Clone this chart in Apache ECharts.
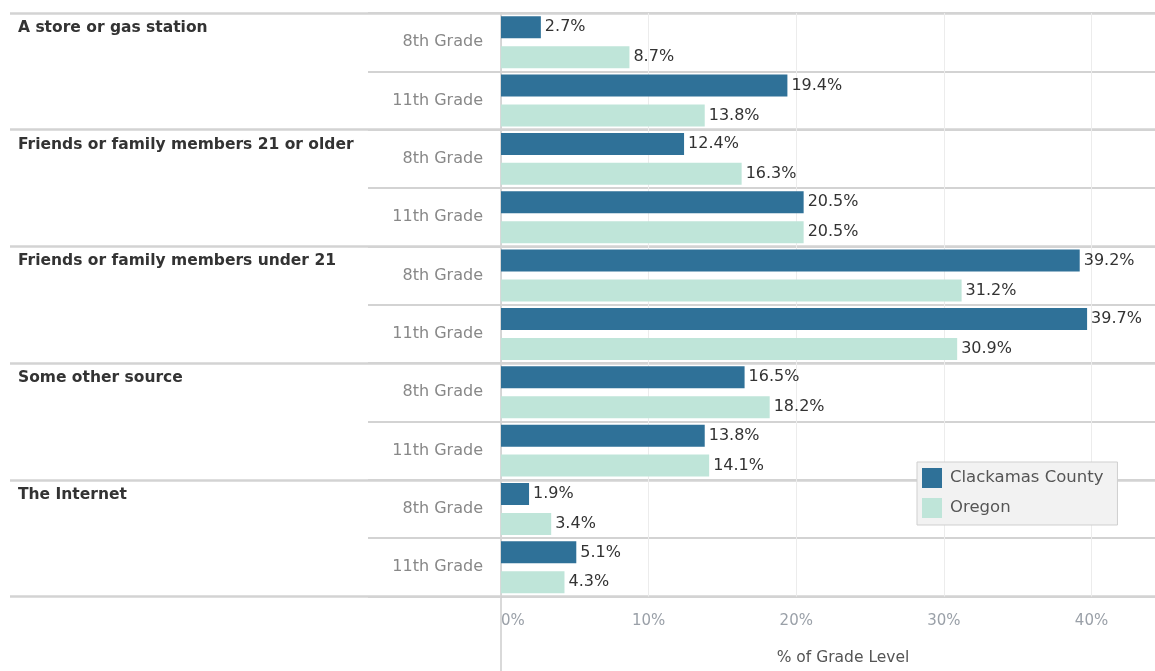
<!DOCTYPE html>
<html>
<head>
<meta charset="utf-8">
<script src="https://cdn.jsdelivr.net/npm/echarts@6/dist/echarts.min.js"></script>
<style>
  html, body { margin: 0; padding: 0; background: #fff; }
  #chart { width: 1155px; height: 671px; }
</style>
</head>
<body>
<div id="chart"></div>
<script>
// ---- data ----
const groups = ['A store or gas station', 'Friends or family members 21 or older', 'Friends or family members under 21', 'Some other source', 'The Internet'];
const grades = ['8th Grade', '11th Grade'];
const seriesNames = ['Clackamas County', 'Oregon'];
// values in order: group1 8th, group1 11th, group2 8th, ...
const clackamas = [2.7, 19.4, 12.4, 20.5, 39.2, 39.7, 16.5, 13.8, 1.9, 5.1];
const oregon    = [8.7, 13.8, 16.3, 20.5, 31.2, 30.9, 18.2, 14.1, 3.4, 4.3];
const xTicks = [0, 10, 20, 30, 40];

const rows = [];
groups.forEach(g => grades.forEach(gr => rows.push(g + '|' + gr)));

const FONT = '"DejaVu Sans", "Open Sans", sans-serif';
const LINE = '#d3d3d3';

const chart = echarts.init(document.getElementById('chart'), null, { renderer: 'canvas' });
const option = {
  animation: false,
  backgroundColor: '#ffffff',
  textStyle: { fontFamily: FONT },
  grid: { left: 501, right: 0, top: 13, bottom: 74.5, containLabel: false, outerBoundsMode: 'none' },
  legend: {
    data: seriesNames,
    orient: 'vertical',
    left: 917, top: 462,
    icon: 'rect',
    itemWidth: 20, itemHeight: 20, itemGap: 10,
    padding: [6, 14, 7, 5],
    backgroundColor: '#f2f2f2',
    borderColor: '#cfcfcf', borderWidth: 1,
    textStyle: { fontFamily: FONT, fontSize: 16.5, color: '#555', padding: [0, 0, 0, 3] }
  },
  xAxis: {
    type: 'value',
    min: xTicks[0], max: 44.3, interval: xTicks[1] - xTicks[0],
    axisLine: { show: false },
    axisTick: { show: false },
    splitLine: { show: true, lineStyle: { color: '#ececec', width: 1 } },
    axisLabel: {
      formatter: v => v + '%',
      showMaxLabel: false,
      alignMinLabel: 'left',
      color: '#9aa0a8', fontSize: 15, fontFamily: FONT, margin: 17
    },
    name: '% of Grade Level',
    nameLocation: 'middle',
    nameGap: 53,
    nameTextStyle: { color: '#555', fontSize: 15.5, fontFamily: FONT, padding: [0, 0, 0, 30] }
  },
  yAxis: [
    {
      type: 'category',
      position: 'left',
      data: rows,
      inverse: true,
      axisLine: { show: true, lineStyle: { color: '#cccccc', width: 1.5 } },
      axisTick: { show: true, interval: 0, length: 133, lineStyle: { color: LINE, width: 2 } },
      splitLine: { show: true, interval: 0, lineStyle: { color: LINE, width: 2 } },
      axisLabel: {
        interval: 0,
        formatter: v => v.split('|')[1],
        color: '#888', fontSize: 16, fontFamily: FONT, margin: 18
      }
    },
    {
      type: 'category',
      position: 'left',
      offset: 0,
      data: groups.concat(['']),
      inverse: true,
      boundaryGap: false,
      axisLine: { show: false },
      axisTick: { show: true, interval: 0, length: 491, lineStyle: { color: LINE, width: 2.5 } },
      splitLine: { show: true, interval: 0, lineStyle: { color: LINE, width: 2.5 } },
      axisLabel: {
        interval: 0,
        align: 'left',
        verticalAlign: 'top',
        margin: 483,
        padding: [7, 0, 0, 0],
        color: '#333', fontSize: 15.5, fontWeight: 'bold', fontFamily: FONT
      }
    }
  ],
  series: [
    {
      name: seriesNames[0], type: 'bar', yAxisIndex: 0,
      data: clackamas,
      barWidth: 22, barGap: '36%',
      itemStyle: { color: '#2f7198' },
      label: { show: true, position: 'right', distance: 4, formatter: p => p.value.toFixed(1) + '%', color: '#333', fontSize: 16, fontFamily: FONT }
    },
    {
      name: seriesNames[1], type: 'bar', yAxisIndex: 0,
      data: oregon,
      barWidth: 22, barGap: '36%',
      itemStyle: { color: '#bfe5d9' },
      label: { show: true, position: 'right', distance: 4, formatter: p => p.value.toFixed(1) + '%', color: '#333', fontSize: 16, fontFamily: FONT }
    }
  ]
};
chart.setOption(option);

// extend the zero axis line below the plot, using the library's scale
const x0 = chart.convertToPixel({ xAxisIndex: 0 }, 0);
const yBottom = chart.convertToPixel({ yAxisIndex: 1 }, groups.length);
chart.setOption({
  graphic: [{
    type: 'line', silent: true,
    shape: { x1: x0, y1: yBottom, x2: x0, y2: 671 },
    style: { stroke: '#cccccc', lineWidth: 1.5 }
  }]
});
</script>
</body>
</html>
